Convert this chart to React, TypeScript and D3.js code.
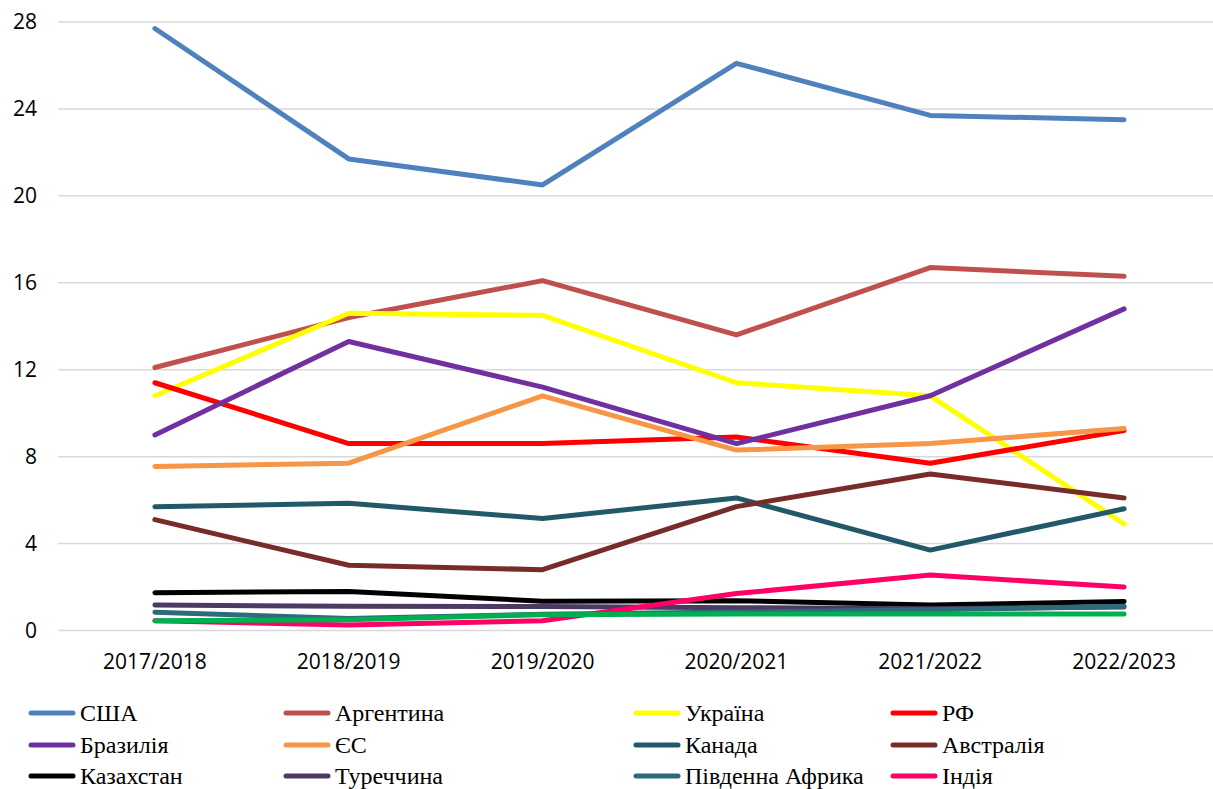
import React from "react";
import * as d3 from "d3";

const categories = ["2017/2018", "2018/2019", "2019/2020", "2020/2021", "2021/2022", "2022/2023"];
const yTicks = [0, 4, 8, 12, 16, 20, 24, 28];

const usa = [27.7, 21.7, 20.5, 26.1, 23.7, 23.5];
const argentina = [12.1, 14.4, 16.1, 13.6, 16.7, 16.3];
const ukraine = [10.8, 14.6, 14.5, 11.4, 10.8, 4.9];
const rf = [11.4, 8.6, 8.6, 8.9, 7.7, 9.2];
const brazil = [9.0, 13.3, 11.2, 8.6, 10.8, 14.8];
const eu = [7.55, 7.7, 10.8, 8.3, 8.6, 9.3];
const canada = [5.7, 5.85, 5.15, 6.1, 3.7, 5.6];
const australia = [5.1, 3.0, 2.8, 5.7, 7.2, 6.1];
const kazakhstan = [1.74, 1.8, 1.35, 1.37, 1.17, 1.34];
const turkey = [1.17, 1.12, 1.1, 1.05, 1.0, 1.08];
const southAfrica = [0.84, 0.55, 0.75, 0.85, 0.95, 1.12];
const india = [0.45, 0.25, 0.45, 1.7, 2.55, 2.0];
const other = [0.45, 0.5, 0.73, 0.76, 0.76, 0.76];

const seriesNames = ["США", "Аргентина", "Україна", "РФ", "Бразилія", "ЄС", "Канада", "Австралія", "Казахстан", "Туреччина", "Південна Африка", "Індія"];
const seriesValues = [usa, argentina, ukraine, rf, brazil, eu, canada, australia, kazakhstan, turkey, southAfrica, india, other];
const seriesColors = ["#4F81BD", "#C0504D", "#FFFF00", "#FF0000", "#7030A0", "#F79646", "#215968", "#772C2A", "#000000", "#4B3A64", "#2E6A7C", "#FF0066", "#00B050"];

export default function App() {
  const W = 1213, H = 789;
  const left = 58, right = 1221;
  const x = d3.scaleBand<string>().domain(categories).range([left, right]);
  const y = d3.scaleLinear().domain([0, 28]).range([630.5, 22]);
  const line = d3.line<number>()
    .x((_, i) => (x(categories[i]) as number) + x.bandwidth() / 2)
    .y((d) => y(d));

  const legendCols = [31, 286, 636, 893];
  const legendRows = [713, 745, 776];

  return (
    <svg width={W} height={H} style={{ position: "absolute", left: 0, top: 0, background: "#fff" }}>
      <rect width={W} height={H} fill="#fff" />
      {yTicks.map((t) => (
        <g key={t}>
          <line x1={left} x2={W} y1={y(t)} y2={y(t)} stroke="#D9D9D9" strokeWidth={1.5} />
          <text x={37} y={y(t)} dy="0.35em" textAnchor="end" style={{ fontFamily: "'Open Sans'" }} fontSize={21} fill="#000">{t}</text>
        </g>
      ))}
      {categories.map((c) => (
        <text key={c} x={(x(c) as number) + x.bandwidth() / 2} y={662} dy="0.35em" textAnchor="middle" style={{ fontFamily: "'Open Sans'" }} fontSize={21} fill="#000">{c}</text>
      ))}
      {seriesValues.map((vals, i) => (
        <path key={i} d={line(vals) as string} fill="none" stroke={seriesColors[i]} strokeWidth={5} strokeLinecap="round" strokeLinejoin="round" />
      ))}
      {seriesNames.map((name, i) => {
        const cx = legendCols[i % 4];
        const cy = legendRows[Math.floor(i / 4)];
        return (
          <g key={name}>
            <line x1={cx} x2={cx + 42} y1={cy} y2={cy} stroke={seriesColors[i]} strokeWidth={5} strokeLinecap="round" />
            <text x={cx + 49} y={cy} dy="0.35em" style={{ fontFamily: "'Tinos'" }} fontSize={24} fill="#000">{name}</text>
          </g>
        );
      })}
    </svg>
  );
}
